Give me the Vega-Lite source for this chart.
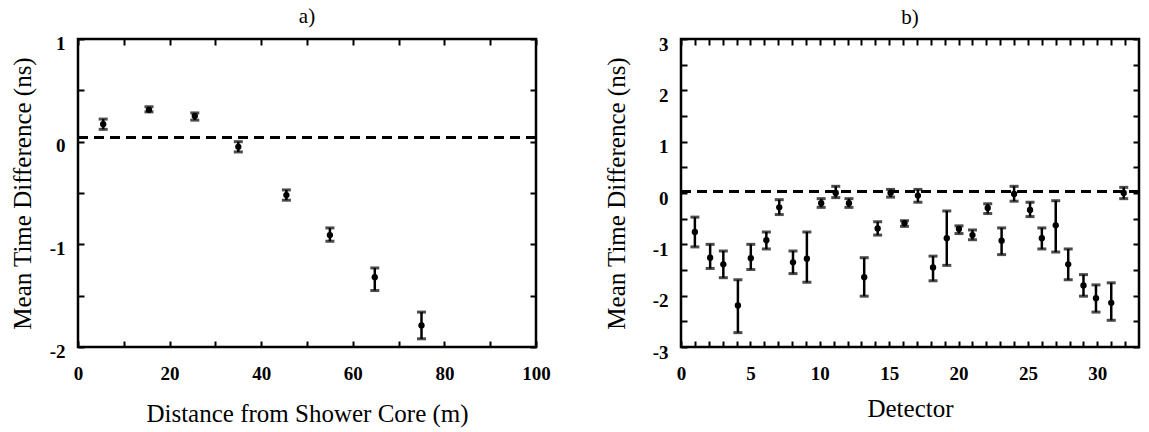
{
  "$schema": "https://vega.github.io/schema/vega-lite/v6.json",
  "background": "white",
  "padding": {"left": 8, "top": 4, "right": 5, "bottom": 0},
  "config": {
    "font": "Liberation Serif",
    "view": {"stroke": "black", "strokeWidth": 2.5},
    "axis": {"domain": false, "grid": false, "labelFont": "Liberation Serif", "titleFont": "Liberation Serif", "labelColor": "black", "titleColor": "black", "tickColor": "black", "tickWidth": 2, "labelFontSize": 19, "labelFontWeight": "bold", "titleFontSize": 25, "titleFontWeight": "normal", "labelFlush": false, "labelOverlap": false},
    "title": {"font": "Liberation Serif", "fontSize": 21, "fontWeight": "normal", "color": "black"}
  },
  "datasets": {
    "a": [
      {"x": 5.5, "y": 0.17, "lo": 0.12, "hi": 0.22},
      {"x": 15.5, "y": 0.31, "lo": 0.29, "hi": 0.34},
      {"x": 25.5, "y": 0.25, "lo": 0.21, "hi": 0.28},
      {"x": 35, "y": -0.05, "lo": -0.1, "hi": 0.0},
      {"x": 45.5, "y": -0.52, "lo": -0.57, "hi": -0.47},
      {"x": 55, "y": -0.91, "lo": -0.97, "hi": -0.84},
      {"x": 64.8, "y": -1.32, "lo": -1.45, "hi": -1.23},
      {"x": 75, "y": -1.79, "lo": -1.92, "hi": -1.66}
    ],
    "b": [
      {"x": 1.0, "y": -0.76, "lo": -1.05, "hi": -0.47},
      {"x": 2.1, "y": -1.26, "lo": -1.47, "hi": -1.0},
      {"x": 3.05, "y": -1.39, "lo": -1.65, "hi": -1.13},
      {"x": 4.1, "y": -2.19, "lo": -2.72, "hi": -1.69},
      {"x": 5.03, "y": -1.27, "lo": -1.49, "hi": -1.0},
      {"x": 6.15, "y": -0.92, "lo": -1.09, "hi": -0.76},
      {"x": 7.08, "y": -0.28, "lo": -0.42, "hi": -0.13},
      {"x": 8.07, "y": -1.35, "lo": -1.57, "hi": -1.13},
      {"x": 9.07, "y": -1.28, "lo": -1.74, "hi": -0.76},
      {"x": 10.1, "y": -0.2, "lo": -0.28, "hi": -0.11},
      {"x": 11.15, "y": 0.0, "lo": -0.09, "hi": 0.13},
      {"x": 12.1, "y": -0.2, "lo": -0.28, "hi": -0.11},
      {"x": 13.2, "y": -1.64, "lo": -2.01, "hi": -1.26},
      {"x": 14.17, "y": -0.69, "lo": -0.82, "hi": -0.56},
      {"x": 15.1, "y": 0.0, "lo": -0.08, "hi": 0.07},
      {"x": 16.1, "y": -0.59, "lo": -0.65, "hi": -0.54},
      {"x": 17.07, "y": -0.05, "lo": -0.18, "hi": 0.07},
      {"x": 18.16, "y": -1.45, "lo": -1.71, "hi": -1.23},
      {"x": 19.15, "y": -0.88, "lo": -1.41, "hi": -0.35},
      {"x": 20.03, "y": -0.7, "lo": -0.79, "hi": -0.64},
      {"x": 21.0, "y": -0.82, "lo": -0.91, "hi": -0.72},
      {"x": 22.1, "y": -0.29, "lo": -0.4, "hi": -0.21},
      {"x": 23.1, "y": -0.93, "lo": -1.2, "hi": -0.68},
      {"x": 24.0, "y": -0.02, "lo": -0.16, "hi": 0.13},
      {"x": 25.15, "y": -0.33, "lo": -0.46, "hi": -0.18},
      {"x": 26.0, "y": -0.88, "lo": -1.09, "hi": -0.68},
      {"x": 27.0, "y": -0.63, "lo": -1.15, "hi": -0.15},
      {"x": 27.9, "y": -1.39, "lo": -1.69, "hi": -1.09},
      {"x": 29.0, "y": -1.8, "lo": -2.01, "hi": -1.59},
      {"x": 29.9, "y": -2.05, "lo": -2.32, "hi": -1.79},
      {"x": 31.0, "y": -2.14, "lo": -2.48, "hi": -1.75},
      {"x": 31.9, "y": 0.0, "lo": -0.11, "hi": 0.11}
    ]
  },
  "bounds": "flush",
  "spacing": 145,
  "hconcat": [
    {
      "width": 458,
      "height": 308,
      "title": {"text": "a)", "offset": 7},
      "data": {"name": "a"},
      "resolve": {"axis": {"x": "independent", "y": "independent"}},
      "layer": [
        {
          "mark": {"type": "rule", "strokeDash": [10, 6], "strokeWidth": 2.5, "color": "black"},
          "encoding": {
            "y": {"datum": 0.04, "type": "quantitative", "scale": {"domain": [-2, 1], "nice": false, "zero": false}, "axis": null}
          }
        },
        {
          "mark": {"type": "rule", "strokeWidth": 2.5, "color": "black"},
          "encoding": {
            "x": {"field": "x", "type": "quantitative", "scale": {"domain": [0, 100], "nice": false}, "axis": {"orient": "bottom", "values": [0, 10, 20, 30, 40, 50, 60, 70, 80, 90, 100], "tickSize": -6, "labelExpr": "datum.value % 20 === 0 ? datum.label : ''", "labelPadding": 23, "title": "Distance from Shower Core (m)", "titlePadding": 18}},
            "y": {"field": "lo", "type": "quantitative", "scale": {"domain": [-2, 1], "nice": false, "zero": false}, "axis": {"orient": "left", "values": [-2, -1.5, -1, -0.5, 0, 0.5, 1], "tickSize": -6, "labelPadding": 19, "labelOffset": 4, "labelExpr": "datum.value % 1 !== 0 ? '' : datum.value < 0 ? '-' + abs(datum.value) : '' + datum.value", "title": "Mean Time Difference (ns)", "titlePadding": 14}},
            "y2": {"field": "hi"}
          }
        },
        {
          "mark": {"type": "tick", "orient": "horizontal", "size": 9, "thickness": 3, "color": "black"},
          "encoding": {
            "x": {"field": "x", "type": "quantitative", "scale": {"domain": [0, 100], "nice": false}, "axis": {"orient": "top", "values": [0, 10, 20, 30, 40, 50, 60, 70, 80, 90, 100], "labels": false, "title": null, "tickSize": -6}},
            "y": {"field": "lo", "type": "quantitative", "scale": {"domain": [-2, 1], "nice": false, "zero": false}, "axis": {"orient": "right", "values": [-2, -1.5, -1, -0.5, 0, 0.5, 1], "labels": false, "title": null, "tickSize": -6}}
          }
        },
        {
          "mark": {"type": "tick", "orient": "horizontal", "size": 9, "thickness": 3, "color": "black"},
          "encoding": {
            "x": {"field": "x", "type": "quantitative", "scale": {"domain": [0, 100], "nice": false}, "axis": null},
            "y": {"field": "hi", "type": "quantitative", "scale": {"domain": [-2, 1], "nice": false, "zero": false}, "axis": null}
          }
        },
        {
          "mark": {"type": "circle", "size": 40, "opacity": 1, "color": "black"},
          "encoding": {
            "x": {"field": "x", "type": "quantitative", "scale": {"domain": [0, 100], "nice": false}, "axis": null},
            "y": {"field": "y", "type": "quantitative", "scale": {"domain": [-2, 1], "nice": false, "zero": false}, "axis": null}
          }
        }
      ]
    },
    {
      "width": 458,
      "height": 308,
      "title": {"text": "b)", "offset": 7},
      "data": {"name": "b"},
      "resolve": {"axis": {"x": "independent", "y": "independent"}},
      "layer": [
        {
          "mark": {"type": "rule", "strokeDash": [10, 6], "strokeWidth": 2.5, "color": "black"},
          "encoding": {
            "y": {"datum": 0.035, "type": "quantitative", "scale": {"domain": [-3, 3], "nice": false, "zero": false}, "axis": null}
          }
        },
        {
          "mark": {"type": "rule", "strokeWidth": 2.5, "color": "black"},
          "encoding": {
            "x": {"field": "x", "type": "quantitative", "scale": {"domain": [0, 33], "nice": false}, "axis": {"orient": "bottom", "values": [0, 1, 2, 3, 4, 5, 6, 7, 8, 9, 10, 11, 12, 13, 14, 15, 16, 17, 18, 19, 20, 21, 22, 23, 24, 25, 26, 27, 28, 29, 30, 31, 32], "tickSize": -6, "labelExpr": "datum.value % 5 === 0 ? datum.label : ''", "labelPadding": 23, "title": "Detector", "titlePadding": 13}},
            "y": {"field": "lo", "type": "quantitative", "scale": {"domain": [-3, 3], "nice": false, "zero": false}, "axis": {"orient": "left", "values": [-3, -2.5, -2, -1.5, -1, -0.5, 0, 0.5, 1, 1.5, 2, 2.5, 3], "tickSize": -6, "labelPadding": 19, "labelOffset": 5, "labelExpr": "datum.value % 1 !== 0 ? '' : datum.value < 0 ? '-' + abs(datum.value) : '' + datum.value", "title": "Mean Time Difference (ns)", "titlePadding": 23}},
            "y2": {"field": "hi"}
          }
        },
        {
          "mark": {"type": "tick", "orient": "horizontal", "size": 9, "thickness": 3, "color": "black"},
          "encoding": {
            "x": {"field": "x", "type": "quantitative", "scale": {"domain": [0, 33], "nice": false}, "axis": {"orient": "top", "values": [0, 1, 2, 3, 4, 5, 6, 7, 8, 9, 10, 11, 12, 13, 14, 15, 16, 17, 18, 19, 20, 21, 22, 23, 24, 25, 26, 27, 28, 29, 30, 31, 32], "labels": false, "title": null, "tickSize": -6}},
            "y": {"field": "lo", "type": "quantitative", "scale": {"domain": [-3, 3], "nice": false, "zero": false}, "axis": {"orient": "right", "values": [-3, -2.5, -2, -1.5, -1, -0.5, 0, 0.5, 1, 1.5, 2, 2.5, 3], "labels": false, "title": null, "tickSize": -6}}
          }
        },
        {
          "mark": {"type": "tick", "orient": "horizontal", "size": 9, "thickness": 3, "color": "black"},
          "encoding": {
            "x": {"field": "x", "type": "quantitative", "scale": {"domain": [0, 33], "nice": false}, "axis": null},
            "y": {"field": "hi", "type": "quantitative", "scale": {"domain": [-3, 3], "nice": false, "zero": false}, "axis": null}
          }
        },
        {
          "mark": {"type": "circle", "size": 40, "opacity": 1, "color": "black"},
          "encoding": {
            "x": {"field": "x", "type": "quantitative", "scale": {"domain": [0, 33], "nice": false}, "axis": null},
            "y": {"field": "y", "type": "quantitative", "scale": {"domain": [-3, 3], "nice": false, "zero": false}, "axis": null}
          }
        }
      ]
    }
  ]
}
